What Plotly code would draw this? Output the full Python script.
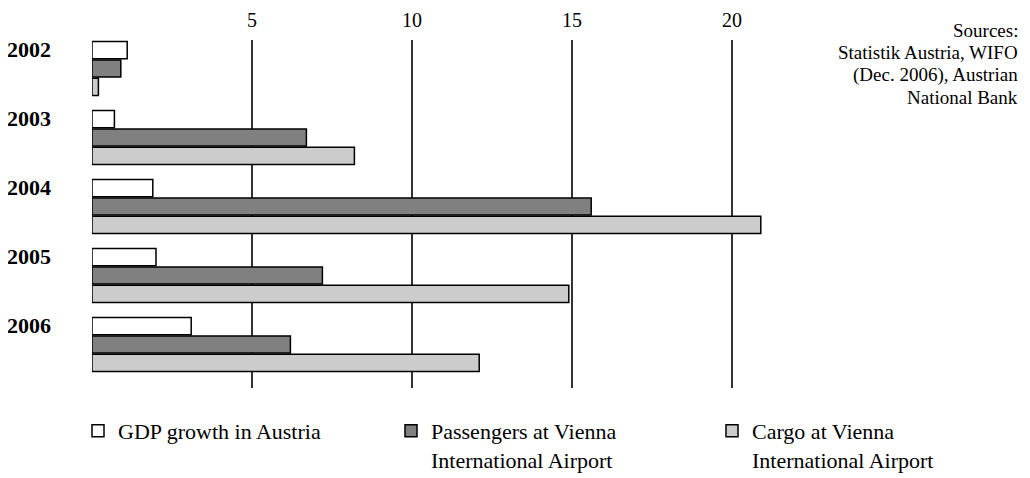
import plotly.graph_objects as go

years = ["2002", "2003", "2004", "2005", "2006"]
gdp = [1.1, 0.7, 1.9, 2.0, 3.1]
passengers = [0.9, 6.7, 15.6, 7.2, 6.2]
cargo = [0.2, 8.2, 20.9, 14.9, 12.1]
x_ticks = [5, 10, 15, 20]
source_lines = ["Sources:", "Statistik Austria, WIFO", "(Dec. 2006), Austrian", "National Bank"]

series = [
    ("GDP growth in Austria", gdp, "#ffffff", "legend"),
    ("Passengers at Vienna<br>International Airport", passengers, "#808080", "legend2"),
    ("Cargo at Vienna<br>International Airport", cargo, "#cccccc", "legend3"),
]

font = "Liberation Serif"
# the page body has an 8px margin, so the figure is drawn 8px smaller
OFF = 8
W, H = 1030 - OFF, 478 - OFF
# plot area in pixels (figure coordinates)
L, T, R, B = 92 - OFF, 40 - OFF, 796 - OFF, 388 - OFF

fig = go.Figure()
for name, vals, col, leg in series:
    fig.add_trace(go.Bar(
        y=years, x=vals, orientation="h", name=name, legend=leg, showlegend=True,
        marker=dict(color=col, line=dict(color="#000000", width=1.5)),
    ))

# year labels sit level with the top bar of each group
for i, yr in enumerate(years):
    fig.add_annotation(
        x=0, xref="paper", xanchor="left", xshift=-87,
        y=i, yref="y", yanchor="middle", yshift=19,
        text="<b>" + yr + "</b>", showarrow=False,
        font=dict(family=font, size=22, color="#000000"),
    )

# source note, one annotation per line to keep the tight spacing
for i, line in enumerate(source_lines):
    fig.add_annotation(
        x=(1020 - OFF - L) / (R - L), xref="paper", xanchor="right",
        y=(B - (31 - OFF + 22 * i)) / (B - T), yref="paper", yanchor="middle",
        text=line, showarrow=False,
        font=dict(family=font, size=19, color="#000000"),
    )

fig.update_xaxes(
    range=[0, 22], side="top", tickvals=x_ticks,
    showgrid=True, gridcolor="#333333", gridwidth=1.5,
    zeroline=False, showline=False, ticks="", ticklabelstandoff=8,
    tickfont=dict(family=font, size=20, color="#000000"),
)
fig.update_yaxes(
    type="category", range=[4.63, -0.413], showticklabels=False, showgrid=False,
    zeroline=False, showline=False, ticks="",
)


def legend_at(px):
    # one legend per series so each can sit at its own x
    return dict(
        visible=True,
        orientation="h", xref="container", x=(px - OFF) / W, xanchor="left",
        yref="container", y=1 - (410 - OFF) / H, yanchor="top",
        font=dict(family=font, size=22, color="#000000"),
        valign="top", bgcolor="rgba(0,0,0,0)",
    )


fig.update_layout(
    width=W, height=H, showlegend=True,
    margin=dict(l=L, r=W - R, t=T, b=H - B, autoexpand=False),
    plot_bgcolor="#ffffff", paper_bgcolor="#ffffff",
    barmode="group", bargap=0.2, bargroupgap=0.07,
    font=dict(family=font, color="#000000"),
    legend=legend_at(78),
    legend2=legend_at(391),
    legend3=legend_at(712),
)

fig.write_html("out.html")
